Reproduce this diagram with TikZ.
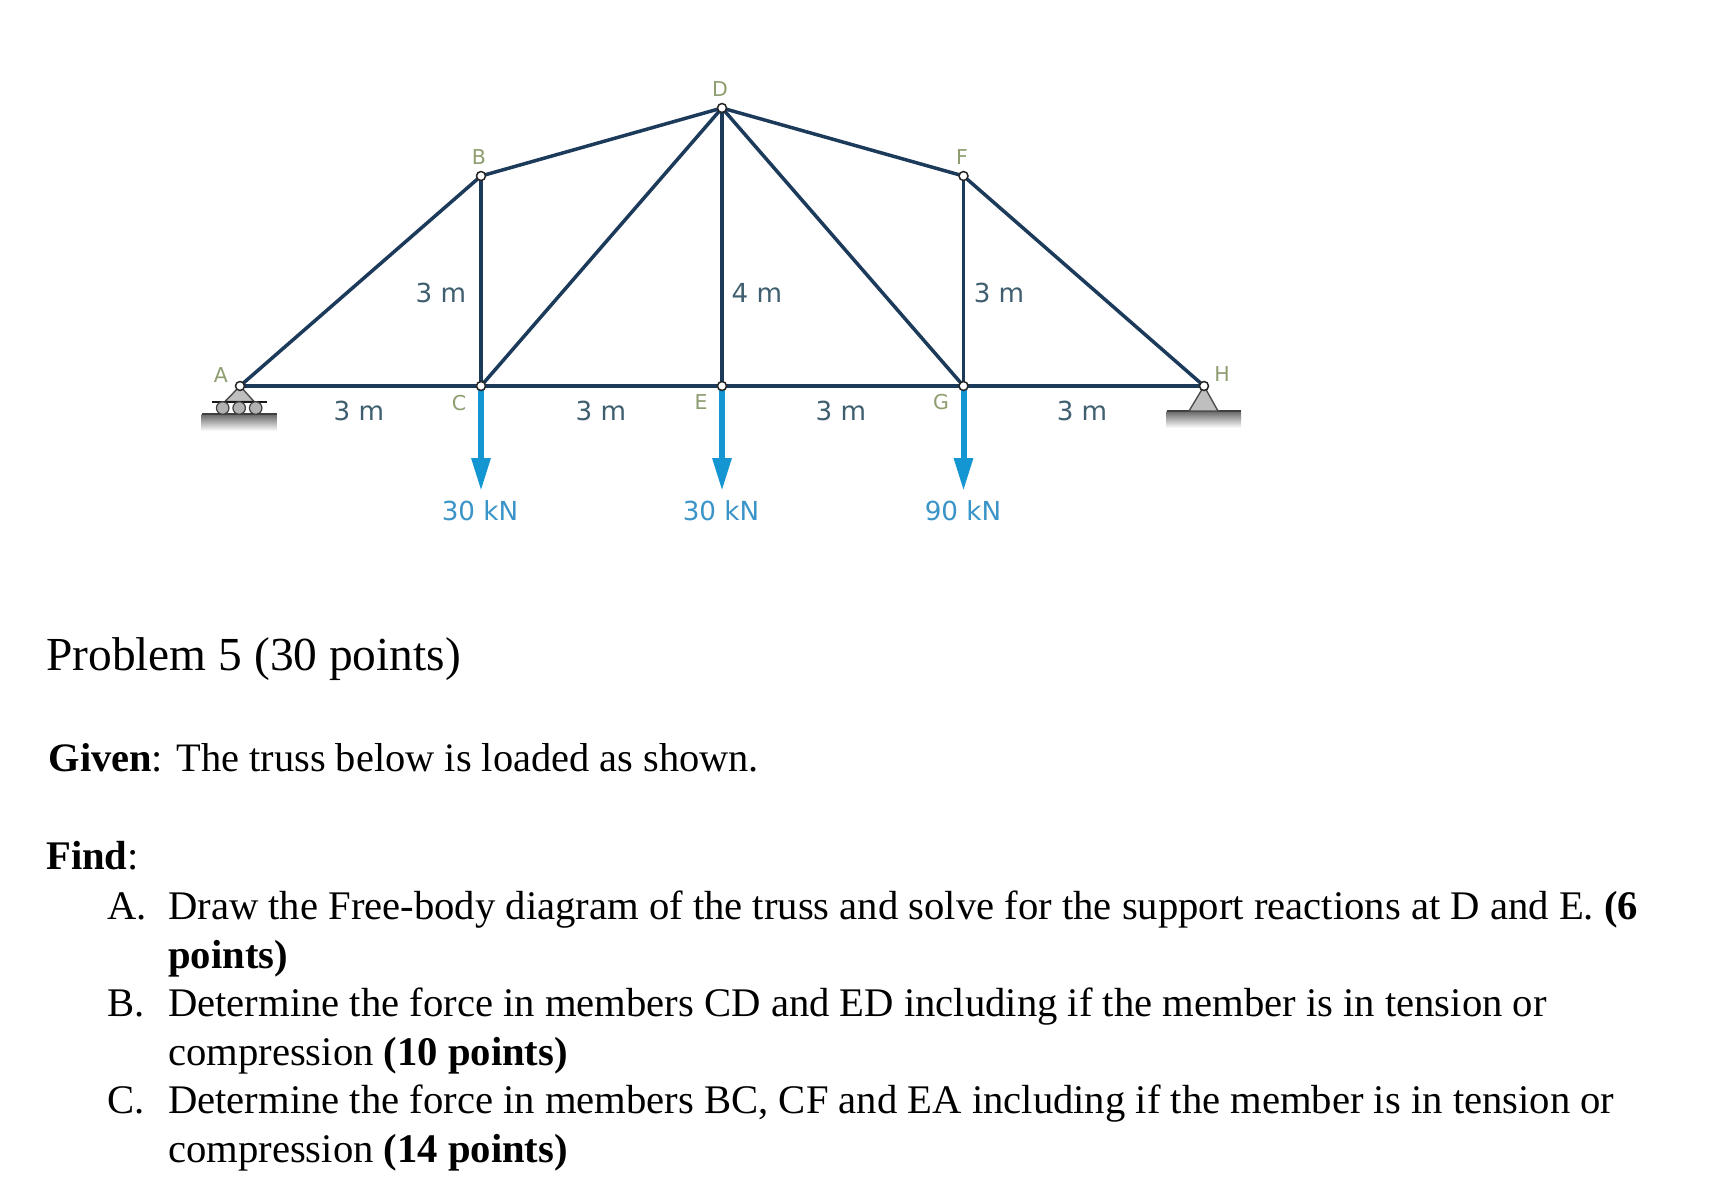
\documentclass[tikz,border=0pt]{standalone}
\usepackage{fontspec}
\setmainfont{Liberation Serif}
\newfontfamily\lblfont{DejaVu Sans}
\usetikzlibrary{arrows.meta}
\definecolor{member}{HTML}{1C3A5A}
\definecolor{dimtxt}{HTML}{3F5F70}
\definecolor{jointtxt}{HTML}{8E9E70}
\definecolor{loadblue}{HTML}{1496D2}
\definecolor{loadtxt}{HTML}{3A94C8}
\tikzset{
 x=1pt,y=-1pt,
 joint/.style={circle,draw=black!85,fill=white,line width=1.5pt,minimum size=9pt,inner sep=0pt},
 memberline/.style={draw=member,line width=3.5pt},
 loadline/.style={draw=loadblue,line width=6pt,-{Triangle[length=33pt,width=18pt]}},
 dimlabel/.style={text=dimtxt,font=\lblfont\fontsize{26.2}{30}\selectfont,inner sep=0pt},
 jointlabel/.style={text=jointtxt,font=\lblfont\fontsize{20.5}{24}\selectfont,inner sep=0pt},
 loadlabel/.style={text=loadtxt,font=\lblfont\fontsize{26.2}{30}\selectfont,inner sep=0pt},
 ptxt/.style={anchor=base west,inner sep=0pt,font=\fontsize{47.4}{52}\selectfont},
 btxt/.style={anchor=base west,inner sep=0pt,font=\fontsize{40.65}{46}\selectfont},
 gtxt/.style={anchor=base west,inner sep=0pt,font=\fontsize{40.4}{46}\selectfont},
 groundshade/.style={top color=black!60,bottom color=white,draw=none},
 supp/.style={fill=black!25,draw=black!70,line width=1.4pt},
 roller/.style={circle,fill=black!30,draw=black!75,line width=1.2pt,minimum size=12.5pt,inner sep=0pt},
}
\begin{document}
\begin{tikzpicture}
\useasboundingbox (0,0) rectangle (1730,1203);
\fill[white] (0,0) rectangle (1730,1203);
% supports
\fill[groundshade] (201.7,414) rectangle (276.7,431);
\draw[black!75,line width=2pt] (201.7,414) -- (276.7,414);
\fill[groundshade] (1166.7,411) rectangle (1241,428);
\draw[black!75,line width=2pt] (1166.7,411) -- (1241,411);
\draw[supp] (240,386) -- (225,401.5) -- (254,401.5) -- cycle;
\draw[black!90,line width=1.8pt] (212,401.7) -- (267,401.7);
\node[roller] (r1) at (222.7,408) {};
\node[roller] (r2) at (239.2,408) {};
\node[roller] (r3) at (255.7,408) {};
\draw[supp] (1204,386) -- (1189,411) -- (1218,411) -- cycle;
% joints placement
\coordinate (a) at (240,386);
\coordinate (c) at (481,386);
\coordinate (e) at (722,386);
\coordinate (g) at (963.5,386);
\coordinate (h) at (1204,386);
\coordinate (b) at (481,176);
\coordinate (d) at (722,108);
\coordinate (f) at (963.5,176);
% loads
\coordinate (lc) at (481,491);
\coordinate (le) at (722,491);
\coordinate (lg) at (963.5,491);
\draw[loadline] (c) -- (lc);
\draw[loadline] (e) -- (le);
\draw[loadline] (g) -- (lg);
% members
\foreach \p/\q in {a/c,c/e,e/g,g/h,a/b,b/d,d/f,f/h,b/c,c/d,d/e,d/g,f/g}
  \draw[memberline] (\p) -- (\q);
\node[joint] (na) at (a) {};
\node[joint] (nb) at (b) {};
\node[joint] (nc) at (c) {};
\node[joint] (nd) at (d) {};
\node[joint] (ne) at (e) {};
\node[joint] (nf) at (f) {};
\node[joint] (ng) at (g) {};
\node[joint] (nh) at (h) {};
% joint labels
\node[jointlabel] (ta) at (221,375) {A};
\node[jointlabel] (tb) at (479,157) {B};
\node[jointlabel] (tc) at (459,403) {C};
\node[jointlabel] (td) at (720,89) {D};
\node[jointlabel] (te) at (701,402) {E};
\node[jointlabel] (tf) at (962,157) {F};
\node[jointlabel] (tg) at (941,402) {G};
\node[jointlabel] (th) at (1222,374) {H};
% dims
\node[dimlabel] (d1) at (359,411) {3 m};
\node[dimlabel] (d2) at (601,411) {3 m};
\node[dimlabel] (d3) at (841,411) {3 m};
\node[dimlabel] (d4) at (1082,411) {3 m};
\node[dimlabel] (d5) at (441,293) {3 m};
\node[dimlabel] (d6) at (757,293) {4 m};
\node[dimlabel] (d7) at (999,293) {3 m};
\node[loadlabel] (l1) at (480,511) {30 kN};
\node[loadlabel] (l2) at (721,511) {30 kN};
\node[loadlabel] (l3) at (963,511) {90 kN};
% text
\node[ptxt] (prob) at (46,670) {Problem 5 (30 points)};
\node[gtxt] (given) at (48.5,771) {\textbf{Given}: The truss below is loaded as shown.};
\node[btxt] (find) at (46,869) {\textbf{Find}:};
\node[btxt] (la) at (107,919) {A.};
\node[btxt] (a1) at (168,919) {Draw the Free-body diagram of the truss and solve for the support reactions at D and E. \textbf{(6}};
\node[btxt] (a2) at (168,968) {\textbf{points)}};
\node[btxt] (lb) at (107,1016) {B.};
\node[btxt] (b1) at (168,1016) {Determine the force in members CD and ED including if the member is in tension or};
\node[btxt] (b2) at (168,1065) {compression \textbf{(10 points)}};
\node[btxt] (lc2) at (107,1113) {C.};
\node[btxt] (c1) at (168,1113) {Determine the force in members BC, CF and EA including if the member is in tension or};
\node[btxt] (c2) at (168,1162) {compression \textbf{(14 points)}};
\end{tikzpicture}
\end{document}
